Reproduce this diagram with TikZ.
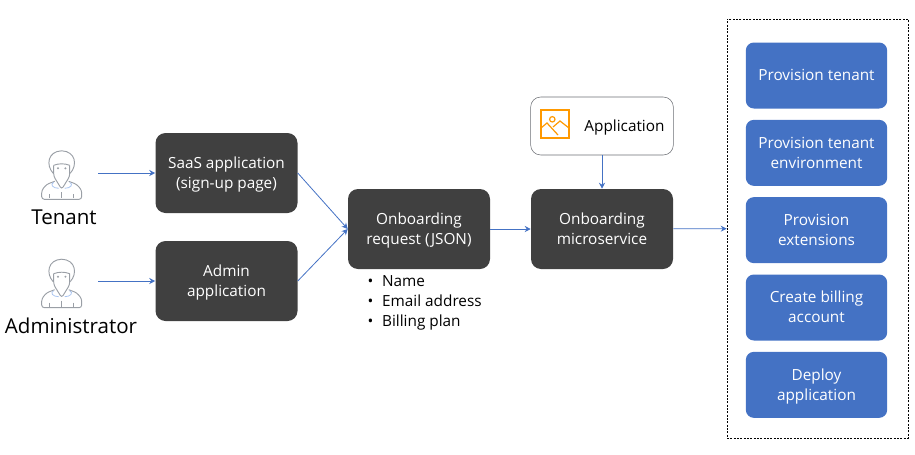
\documentclass[tikz,border=0pt]{standalone}
\usepackage{fontspec}
\setmainfont{Open Sans}
\usetikzlibrary{arrows.meta,positioning,calc}
\definecolor{DarkStep}{HTML}{404040}
\definecolor{BlueStep}{HTML}{4472C4}
\definecolor{IconGray}{HTML}{9A9FA6}
\definecolor{IconBlue}{HTML}{A9C4F0}
\definecolor{IconOrange}{HTML}{FF9900}
\tikzstyle{BoxText} =[font=\fontsize{11.5}{15}\selectfont,align=center]
\tikzstyle{ServiceNode} =[BoxText,fill=DarkStep,text=white,rounded corners=7.5pt,minimum width=106.5pt,minimum height=60pt,text height=24pt,text depth=0.8pt]
\tikzstyle{TaskNode} =[BoxText,fill=BlueStep,text=white,rounded corners=6pt,minimum width=106pt,minimum height=49.5pt,text height=24pt,text depth=0.8pt]
\tikzstyle{ActorLabel} =[font=\fontsize{15.4}{18}\selectfont]
\tikzstyle{Flow} =[-{Stealth[length=4.5pt,width=4.5pt]},BlueStep,line width=0.6pt]
\tikzset{
    PersonIcon/.pic={
        \draw[IconGray,line width=0.7pt,rounded corners=2pt] (-7,8) -- (-15,11) -- (-20,17) -- (-20,26) -- (20,26) -- (20,17) -- (15,11) -- (7,8);
        \draw[IconGray,line width=0.7pt,rounded corners=2pt] (-8,-8) -- (-8,3) -- (0,16) -- (8,3) -- (8,-8);
        \draw[IconGray,line width=0.7pt] (-8.5,0) .. controls (-16,-8) and (-14,-22) .. (0,-22.5) .. controls (14,-22) and (16,-8) .. (8.5,0);
        \draw[IconGray,line width=0.7pt] (-8,-8) .. controls (-3,-10) and (3,-10) .. (8,-8);
        \fill[IconGray] (-3.7,-5) circle (1.1) (3.7,-5) circle (1.1);
        \draw[IconBlue,line width=0.6pt] (-8,9) .. controls (-12,11) and (-9,15) .. (-3,15);
        \draw[IconBlue,line width=0.6pt] (8,9) .. controls (12,11) and (9,15) .. (3,15);
        \draw[IconGray,line width=0.6pt] (-12,21) -- (-12,25) (12,21) -- (12,25) (0,19) -- (0,25);
    },
    ImageIcon/.pic={
        \draw[IconOrange,line width=0.9pt] (-14,-14) rectangle (14,14);
        \draw[IconOrange,line width=0.9pt] (-2.7,-4.7) circle (2.7);
        \draw[IconOrange,line width=0.9pt] (-14,4) -- (-8,-1) -- (3,11);
        \draw[IconOrange,line width=0.9pt] (-2,3) -- (5,-3) -- (14,4);
    }
}
\begin{document}
\begin{tikzpicture}[x=0.75pt,y=-0.75pt,node distance=10pt,on grid]
    \useasboundingbox (0,0) rectangle (915,454);

    \node[ServiceNode](SaaS-Application) at (226.5,173){SaaS application\\(sign-up page)};
    \node[ServiceNode,below=81pt of SaaS-Application](Admin-Application){Admin\\application};
    \node[ServiceNode](Onboarding-Request) at (419,229){Onboarding\\request (JSON)};
    \node[ServiceNode,right=137.25pt of Onboarding-Request](Onboarding-Microservice){Onboarding\\microservice};
    \node[draw=IconGray!70!black,rounded corners=7.5pt,minimum width=107pt,minimum height=43.5pt,above=77.25pt of Onboarding-Microservice](Application-Box){};
    \node[BoxText](Application-Label) at (624.5,127.5){Application};
    \pic at (555,124) {ImageIcon};

    \node[BoxText,align=left,anchor=north west](Request-Fields) at (363,270.5){\textbullet\hspace{6.5pt}Name\\\textbullet\hspace{6.5pt}Email address\\\textbullet\hspace{6.5pt}Billing plan};

    \node[draw,dash pattern=on 1.5pt off 1pt,line width=0.4pt,minimum width=135.75pt,minimum height=314.25pt](Task-Group) at (817.5,228.5){};
    \node[TaskNode,text height=9pt](Provision-Tenant) at (816.5,75.5){Provision tenant};
    \node[TaskNode,below=58pt of Provision-Tenant](Provision-Environment){Provision tenant\\environment};
    \node[TaskNode,below=58pt of Provision-Environment](Provision-Extensions){Provision\\extensions};
    \node[TaskNode,below=58pt of Provision-Extensions](Billing-Account){Create billing\\account};
    \node[TaskNode,below=58pt of Billing-Account](Deploy-Application){Deploy\\application};

    % actors
    \pic at (61.7,173.3) {PersonIcon};
    \pic at (61.7,281.7) {PersonIcon};
    \node[ActorLabel](Tenant-Label) at (64,217.5){Tenant};
    \node[ActorLabel](Administrator-Label) at (71,325.5){Administrator};
    \coordinate (Tenant-Out) at (98,173);
    \coordinate (Administrator-Out) at (98,281);

    \draw[Flow] (Tenant-Out) -- (SaaS-Application);
    \draw[Flow] (Administrator-Out) -- (Admin-Application);
    \draw[Flow] (SaaS-Application.east) -- (Onboarding-Request.west);
    \draw[Flow] (Admin-Application.east) -- (Onboarding-Request.west);
    \draw[Flow] (Onboarding-Request) -- (Onboarding-Microservice);
    \draw[Flow] (Application-Box) -- (Onboarding-Microservice);
    \draw[Flow] (Onboarding-Microservice) -- (Task-Group);
\end{tikzpicture}
\end{document}
